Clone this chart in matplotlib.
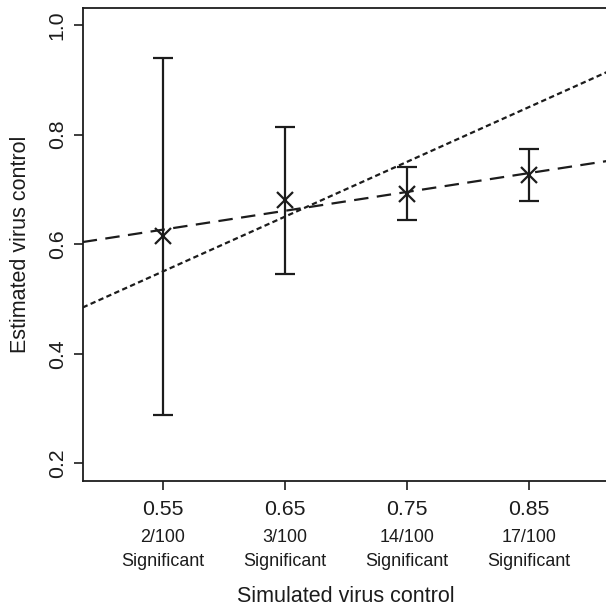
import numpy as np
import matplotlib
matplotlib.use("Agg")
import matplotlib.pyplot as plt
import matplotlib.transforms as mtransforms

plt.rcParams['font.family'] = ['Liberation Sans', 'DejaVu Sans']

# Data
simulated = [0.55, 0.65, 0.75, 0.85]
estimated = [0.615, 0.680, 0.691, 0.726]
ci_low = [0.288, 0.545, 0.644, 0.679]
ci_high = [0.940, 0.814, 0.740, 0.774]
sig_labels = ["2/100", "3/100", "14/100", "17/100"]
tick_labels = ["0.55", "0.65", "0.75", "0.85"]
y_ticks = [0.2, 0.4, 0.6, 0.8, 1.0]

col = "#1c1c1c"
W, H = 606, 608
fig = plt.figure(figsize=(W / 100, H / 100), dpi=100)
ax = fig.add_axes([82.7 / W, 1 - 481 / H, (610.5 - 82.7) / W, (481 - 8) / H])
ax.set_xlim(0.4844, 0.917)
ax.set_ylim(0.1677, 1.031)

x = np.array(simulated)
y = np.array(estimated)
err = [y - np.array(ci_low), np.array(ci_high) - y]

# identity line (dotted) and fitted line (dashed)
xl = np.array(ax.get_xlim())
ax.plot(xl, xl, color=col, lw=1.6, dashes=(2.4, 1.5), zorder=2)
slope, intercept = np.polyfit(x, y, 1)
ax.plot(xl, intercept + slope * xl, color=col, lw=1.6, dashes=(6.5, 3.8), zorder=2)

ax.errorbar(x, y, yerr=err, fmt='none', ecolor=col, elinewidth=1.6,
            capsize=7.2, capthick=1.6, zorder=3)
ax.plot(x, y, linestyle='none', marker='x', markersize=11.5,
        markeredgewidth=1.6, color=col, zorder=4)

for side in ['left', 'bottom', 'top', 'right']:
    ax.spines[side].set_color(col)
    ax.spines[side].set_linewidth(1.3)

ax.set_xticks(simulated)
ax.set_xticklabels(tick_labels, fontsize=15.3, color=col)
ax.set_yticks(y_ticks)
ax.set_yticklabels([f"{v:.1f}" for v in y_ticks], fontsize=15.3, color=col,
                   rotation=90, va='center')
ax.tick_params(axis='both', length=6.5, width=1.2, color=col)
ax.tick_params(axis='x', pad=7)
ax.tick_params(axis='y', pad=5)

trans = mtransforms.blended_transform_factory(ax.transData, fig.transFigure)
for xi, s in zip(simulated, sig_labels):
    ax.text(xi, 1 - 538 / H, s, transform=trans, ha='center', va='center',
            fontsize=12.9, color=col)
    ax.text(xi, 1 - 561 / H, "Significant", transform=trans, ha='center',
            va='center', fontsize=12.9, color=col)

fig.text(346 / W, 1 - 597 / H, "Simulated virus control", ha='center',
         va='center', fontsize=15.5, color=col)
fig.text(21 / W, 1 - 244.5 / H, "Estimated virus control", ha='center',
         va='center', rotation=90, fontsize=15.5, color=col)

fig.savefig("out.png", dpi=100)
